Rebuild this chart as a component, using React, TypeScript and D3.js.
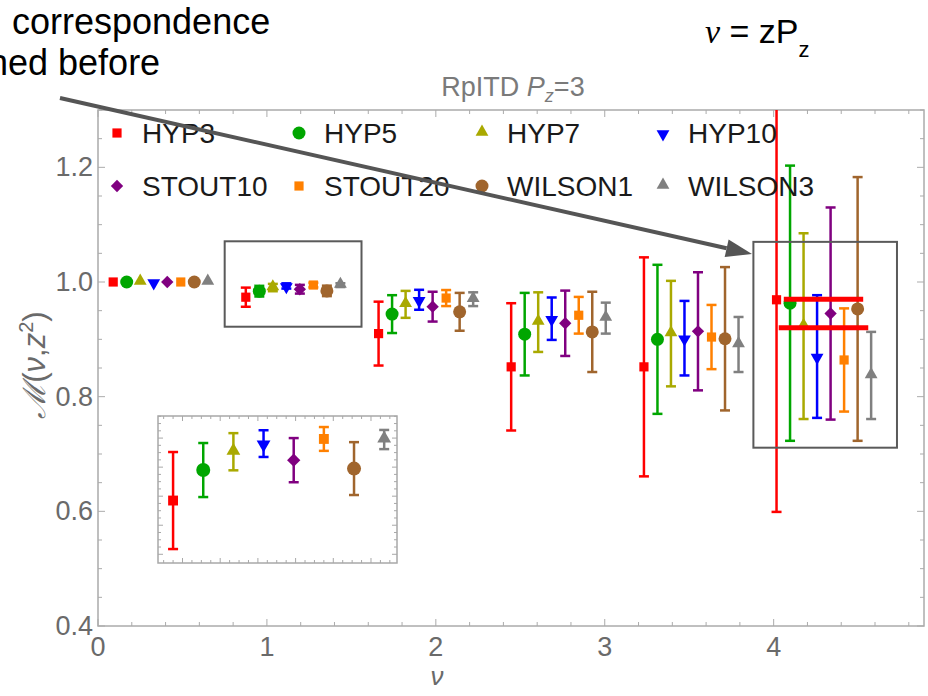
import React from "react";
import * as d3 from "d3";

// series (legend order)
const seriesNames = ["HYP3", "HYP5", "HYP7", "HYP10", "STOUT10", "STOUT20", "WILSON1", "WILSON3"];
const seriesColors = ["#ff0000", "#00a600", "#a9a900", "#0000ff", "#800080", "#ff8000", "#a0652d", "#808080"];
const seriesShapes = ["square", "circle", "triangle", "down", "diamond", "square", "circle", "triangle"];

// nu = z * Pz (z = 0..5)
const nuValues = [0, 0.785, 1.571, 2.356, 3.142, 3.927];

const hyp3Values = [1.0, 0.9735, 0.910, 0.852, 0.852, 0.969];
const hyp3Errors = [0, 0.0167, 0.0557, 0.111, 0.191, 0.37];
const hyp5Values = [1.0, 0.984, 0.944, 0.909, 0.900, 0.963];
const hyp5Errors = [0, 0.0093, 0.033, 0.072, 0.130, 0.240];
const hyp7Values = [1.0, 0.9903, 0.961, 0.930, 0.910, 0.923];
const hyp7Errors = [0, 0.0064, 0.0235, 0.052, 0.092, 0.162];
const hyp10Values = [1.0, 0.9931, 0.969, 0.936, 0.902, 0.870];
const hyp10Errors = [0, 0.0046, 0.0174, 0.037, 0.065, 0.107];
const stout10Values = [1.0, 0.9874, 0.957, 0.928, 0.914, 0.945];
const stout10Errors = [0, 0.0076, 0.026, 0.057, 0.103, 0.185];
const stout20Values = [1.0, 0.9947, 0.972, 0.942, 0.904, 0.864];
const stout20Errors = [0, 0.0041, 0.014, 0.032, 0.056, 0.090];
const wilson1Values = [1.0, 0.9845, 0.948, 0.913, 0.901, 0.953];
const wilson1Errors = [0, 0.0091, 0.033, 0.070, 0.125, 0.230];
const wilson3Values = [1.0, 0.9945, 0.970, 0.937, 0.891, 0.837];
const wilson3Errors = [0, 0.0033, 0.012, 0.027, 0.048, 0.076];

const allValues = [hyp3Values, hyp5Values, hyp7Values, hyp10Values, stout10Values, stout20Values, wilson1Values, wilson3Values];
const allErrors = [hyp3Errors, hyp5Errors, hyp7Errors, hyp10Errors, stout10Errors, stout20Errors, wilson1Errors, wilson3Errors];

// annotations (data units)
const redLineLevels = [0.970, 0.920];
const redLineSpans = [[4.06, 4.53], [4.03, 4.56]];
const boxes = [
  {x0: 0.75, x1: 1.56, y0: 0.922, y1: 1.071},
  {x0: 3.88, x1: 4.73, y0: 0.711, y1: 1.07},
];
const insetGroup = 1; // z index magnified in inset

const xTickLabels = ["0", "1", "2", "3", "4"];
const yTickLabels = ["0.4", "0.6", "0.8", "1.0", "1.2"];

const FONT = "'Liberation Sans', Arial, sans-serif";

function markerPath(shape: string, s: number): string {
  if (shape === "circle") return d3.symbol(d3.symbolCircle, Math.PI * s * s * 0.25)() as string;
  if (shape === "square") return d3.symbol(d3.symbolSquare, s * s * 0.5)() as string;
  if (shape === "diamond") return d3.symbol(d3.symbolSquare, s * s * 0.45)() as string;
  return d3.symbol(d3.symbolTriangle, s * s * 0.42)() as string;
}

function Marker(props: {shape: string; color: string; x: number; y: number; s: number}) {
  const {shape, color, x, y, s} = props;
  let rot = 0;
  if (shape === "down") rot = 180;
  if (shape === "diamond") rot = 45;
  const dy = shape === "triangle" ? -1 : shape === "down" ? 1 : 0;
  return <path d={markerPath(shape, s)} fill={color} transform={`translate(${x},${y + dy}) rotate(${rot})`} />;
}

export default function App() {
  const W = 928, H = 696;
  const left = 98, right = 924, top = 110, bottom = 626;
  const x = d3.scaleLinear().domain([0, 4.89]).range([left, right]);
  const y = d3.scaleLinear().domain([0.4, 1.3]).range([bottom, top]);
  const dodge = d3.scalePoint<string>().domain(seriesNames).range([0.09, 0.65]);

  // inset
  const ix = d3.scaleLinear().domain([0.835, 1.469]).range([158, 397]);
  const iy = d3.scaleLinear().domain([0.952, 1.0026]).range([563, 416]);

  const axisColor = "#ababab";
  const labelColor = "#6a6a6a";

  const xMinor = d3.range(0, 4.9, 0.2);
  const yMinor = d3.range(0.4, 1.3001, 0.05);

  const ixMinor = d3.range(0.85, 1.469, 0.025);
  const iyMinor = d3.range(0.955, 1.0026, 0.0025);

  const arrowStart = [60, 98];
  const arrowEnd = [752, 254];
  const ang = Math.atan2(arrowEnd[1] - arrowStart[1], arrowEnd[0] - arrowStart[0]);
  const headLen = 26, headW = 9;
  const bx = arrowEnd[0] - headLen * Math.cos(ang), by = arrowEnd[1] - headLen * Math.sin(ang);
  const head = [
    [arrowEnd[0], arrowEnd[1]],
    [bx + headW * Math.sin(ang), by - headW * Math.cos(ang)],
    [bx - headW * Math.sin(ang), by + headW * Math.cos(ang)],
  ];

  const legendCols = [117, 299, 482, 663];
  const legendRows = [133, 186];

  return (
    <svg width={W} height={H} style={{display: "block", position: "absolute", left: 0, top: 0}} fontFamily={FONT}>
      <rect width={W} height={H} fill="#fff" />
      <defs>
        <clipPath id="plotClip">
          <rect x={left} y={top} width={right - left} height={bottom - top} />
        </clipPath>
      </defs>

      {/* frame */}
      <rect x={left} y={top} width={right - left} height={bottom - top} fill="none" stroke={axisColor} strokeWidth={1.5} />
      {xMinor.map((v, i) => {
        const major = Math.abs(v - Math.round(v)) < 1e-6;
        const len = major ? 7 : 4;
        return (
          <g key={"xt" + i} stroke={axisColor} strokeWidth={1}>
            <line x1={x(v)} x2={x(v)} y1={bottom} y2={bottom - len} />
            <line x1={x(v)} x2={x(v)} y1={top} y2={top + len} />
          </g>
        );
      })}
      {yMinor.map((v, i) => {
        const major = Math.abs(v * 5 - Math.round(v * 5)) < 1e-6;
        const len = major ? 7 : 4;
        return (
          <g key={"yt" + i} stroke={axisColor} strokeWidth={1}>
            <line x1={left} x2={left + len} y1={y(v)} y2={y(v)} />
            <line x1={right} x2={right - len} y1={y(v)} y2={y(v)} />
          </g>
        );
      })}
      {xTickLabels.map((t) => (
        <text key={"xl" + t} x={x(+t)} y={656} textAnchor="middle" fontSize={27} fill={labelColor}>{t}</text>
      ))}
      {yTickLabels.map((t) => (
        <text key={"yl" + t} x={93} y={y(+t) + 9} textAnchor="end" fontSize={27} fill={labelColor}>{t}</text>
      ))}
      <text x={437} y={685} textAnchor="middle" fontSize={26} fontStyle="italic" fill={labelColor}>ν</text>
      <text transform="translate(45,365) rotate(-90)" textAnchor="middle" fontSize={31} fill={labelColor}>
        <tspan fontStyle="italic">ℳ</tspan>(<tspan fontStyle="italic">ν</tspan>,<tspan fontStyle="italic">z</tspan>
        <tspan fontSize={20} dy={-12}>2</tspan><tspan dy={12}>)</tspan>
      </text>

      {/* title */}
      <text x={513} y={96} textAnchor="middle" fontSize={27} fill="#7a7a7a">
        RpITD <tspan fontStyle="italic">P</tspan><tspan fontStyle="italic" fontSize={18} dy={6}>z</tspan><tspan dy={-6}>=3</tspan>
      </text>

      {/* data */}
      <g clipPath="url(#plotClip)">
        {seriesNames.map((name, si) => (
          <g key={name}>
            {nuValues.map((nu, zi) => {
              const v = allValues[si][zi];
              const e = allErrors[si][zi];
              const cx = x(nu + (dodge(name) as number));
              const color = seriesColors[si];
              return (
                <g key={zi}>
                  {e > 0 && (
                    <g stroke={color} strokeWidth={2.5}>
                      <line x1={cx} x2={cx} y1={y(v - e)} y2={y(v + e)} />
                      <line x1={cx - 5} x2={cx + 5} y1={y(v - e)} y2={y(v - e)} />
                      <line x1={cx - 5} x2={cx + 5} y1={y(v + e)} y2={y(v + e)} />
                    </g>
                  )}
                  <Marker shape={seriesShapes[si]} color={color} x={cx} y={y(v)} s={13} />
                </g>
              );
            })}
          </g>
        ))}
        {redLineLevels.map((lv, i) => (
          <line key={"rl" + i} x1={x(redLineSpans[i][0])} x2={x(redLineSpans[i][1])} y1={y(lv)} y2={y(lv)} stroke="#ff0000" strokeWidth={5} />
        ))}
      </g>

      {/* boxes */}
      {boxes.map((b, i) => (
        <rect key={"b" + i} x={x(b.x0)} y={y(b.y1)} width={x(b.x1) - x(b.x0)} height={y(b.y0) - y(b.y1)} fill="none" stroke="#5a5a5a" strokeWidth={2} />
      ))}

      {/* legend */}
      {seriesNames.map((name, si) => {
        const cx = legendCols[si % 4];
        const cy = legendRows[Math.floor(si / 4)];
        return (
          <g key={"lg" + name}>
            <Marker shape={seriesShapes[si]} color={seriesColors[si]} x={cx} y={cy} s={13} />
            <text x={cx + 25} y={cy + 10} fontSize={28} fill="#1a1a1a">{name}</text>
          </g>
        );
      })}

      {/* inset */}
      <g>
        <rect x={158} y={416} width={239} height={147} fill="#fff" stroke="#a8a8a8" strokeWidth={1.5} />
        {ixMinor.map((v, i) => {
          const len = i % 4 === 2 ? 5 : 3;
          return (
            <g key={"ixt" + i} stroke="#a8a8a8" strokeWidth={1}>
              <line x1={ix(v)} x2={ix(v)} y1={563} y2={563 - len} />
              <line x1={ix(v)} x2={ix(v)} y1={416} y2={416 + len} />
            </g>
          );
        })}
        {iyMinor.map((v, i) => {
          const len = i % 4 === 0 ? 5 : 3;
          return (
            <g key={"iyt" + i} stroke="#a8a8a8" strokeWidth={1}>
              <line x1={158} x2={158 + len} y1={iy(v)} y2={iy(v)} />
              <line x1={397} x2={397 - len} y1={iy(v)} y2={iy(v)} />
            </g>
          );
        })}
        {seriesNames.map((name, si) => {
          const v = allValues[si][insetGroup];
          const e = allErrors[si][insetGroup];
          const cx = ix(nuValues[insetGroup] + (dodge(name) as number));
          const color = seriesColors[si];
          return (
            <g key={"in" + name}>
              <g stroke={color} strokeWidth={2.5}>
                <line x1={cx} x2={cx} y1={iy(v - e)} y2={iy(v + e)} />
                <line x1={cx - 5} x2={cx + 5} y1={iy(v - e)} y2={iy(v - e)} />
                <line x1={cx - 5} x2={cx + 5} y1={iy(v + e)} y2={iy(v + e)} />
              </g>
              <Marker shape={seriesShapes[si]} color={color} x={cx} y={iy(v)} s={14} />
            </g>
          );
        })}
      </g>

      {/* annotation text + arrow */}
      <text x={12} y={34} fontSize={36} fill="#000">correspondence</text>
      <text x={-12} y={75} fontSize={36} fill="#000">ned before</text>
      <text x={705} y={43} fontSize={34} fill="#000">
        <tspan fontFamily="'Liberation Serif', 'Times New Roman', serif" fontStyle="italic">ν</tspan>
        <tspan> = zP</tspan>
        <tspan fontSize={22} dy={14}>z</tspan>
      </text>
      <line x1={arrowStart[0]} y1={arrowStart[1]} x2={bx} y2={by} stroke="#555" strokeWidth={4} />
      <polygon points={head.map((p) => p.join(",")).join(" ")} fill="#555" />
    </svg>
  );
}
